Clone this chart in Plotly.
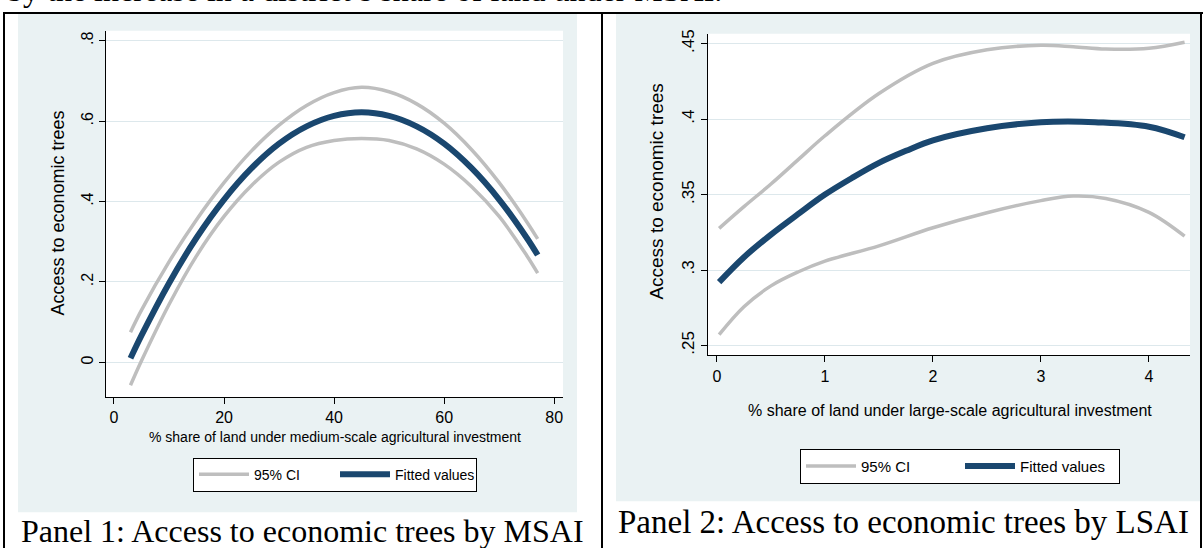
import plotly.graph_objects as go

W, H = 1203, 548

# ---------------- Panel 1 data (MSAI, quadratic fit) ----------------
p1_x = [3, 5, 10, 15, 20, 25, 30, 35, 40, 45, 50, 55, 60, 65, 70, 75, 77]
p1_fit = [0.010, 0.067, 0.197, 0.310, 0.405, 0.483, 0.544, 0.587, 0.613, 0.622,
          0.613, 0.587, 0.544, 0.483, 0.405, 0.310, 0.267]
p1_upper = [0.075, 0.130, 0.250, 0.355, 0.447, 0.526, 0.590, 0.639, 0.671, 0.684,
            0.673, 0.643, 0.595, 0.529, 0.447, 0.350, 0.307]
p1_lower = [-0.057, 0.004, 0.144, 0.265, 0.363, 0.440, 0.498, 0.535, 0.552, 0.557,
            0.552, 0.531, 0.493, 0.437, 0.363, 0.266, 0.222]
p1_xticks = [0, 20, 40, 60, 80]
p1_yticks = [0, 0.2, 0.4, 0.6, 0.8]
p1_yticklabels = ["0", ".2", ".4", ".6", ".8"]

# ---------------- Panel 2 data (LSAI) ----------------
p2_x = [0.02, 0.25, 0.5, 0.75, 1.0, 1.25, 1.5, 1.75, 2.0, 2.5, 3.0, 3.25, 3.5, 4.0, 4.33]
p2_fit = [0.292, 0.3085, 0.3235, 0.337, 0.350, 0.361, 0.371, 0.379, 0.386, 0.394,
          0.398, 0.3985, 0.398, 0.395, 0.388]
p2_ci_x = [0.02, 0.25, 0.5, 0.75, 1.0, 1.5, 2.0, 2.5, 3.0, 3.3, 3.6, 4.0, 4.33]
p2_upper = [0.3276, 0.342, 0.357, 0.373, 0.389, 0.417, 0.437, 0.446, 0.449, 0.448,
            0.4465, 0.447, 0.451]
p2_lower = [0.2572, 0.2757, 0.2895, 0.2987, 0.3059, 0.3160, 0.3280, 0.3380, 0.3460,
            0.3490, 0.3474, 0.3382, 0.3224]
p2_xticks = [0, 1, 2, 3, 4]
p2_yticks = [0.25, 0.30, 0.35, 0.40, 0.45]
p2_yticklabels = [".25", ".3", ".35", ".4", ".45"]

ytitle = "Access to economic trees"
p1_xtitle = "% share of land under medium-scale agricultural investment"
p2_xtitle = "% share of land under large-scale agricultural investment"
caption1 = "Panel 1: Access to economic trees by MSAI"
caption2 = "Panel 2: Access to economic trees by LSAI"
top_text = "by the increase in a district\u2019s share of land under MSAI."

CI_COLOR = "#BEBEBE"
FIT_COLOR = "#1A476F"
BG = "#EAF2F3"
GRID = "#DDE8EC"
SANS = "Liberation Sans, Arial, sans-serif"
SERIF = "Liberation Serif, Times New Roman, serif"


def px(x):
    return x / W


def py(y):
    return 1 - y / H


fig = go.Figure()

# Panel 1 traces
fig.add_trace(go.Scatter(
    x=p1_x + [None] + p1_x, y=p1_upper + [None] + p1_lower,
    mode="lines", line=dict(color=CI_COLOR, width=3.5, shape="spline"),
    name="95% CI", xaxis="x", yaxis="y", legend="legend", connectgaps=False))
fig.add_trace(go.Scatter(
    x=p1_x, y=p1_fit, mode="lines",
    line=dict(color=FIT_COLOR, width=6, shape="spline"),
    name="Fitted values", xaxis="x", yaxis="y", legend="legend"))

# Panel 2 traces
fig.add_trace(go.Scatter(
    x=p2_ci_x + [None] + p2_ci_x, y=p2_upper + [None] + p2_lower,
    mode="lines", line=dict(color=CI_COLOR, width=3.5, shape="spline"),
    name="95% CI", xaxis="x2", yaxis="y2", legend="legend2", connectgaps=False))
fig.add_trace(go.Scatter(
    x=p2_x, y=p2_fit, mode="lines",
    line=dict(color=FIT_COLOR, width=6, shape="spline"),
    name="Fitted values", xaxis="x2", yaxis="y2", legend="legend2"))

# plot areas (pixels)
p1_l, p1_r, p1_t, p1_b = 106, 563, 27, 396
p2_l, p2_r, p2_t, p2_b = 708, 1190, 30, 354

axis_common = dict(showline=True, linecolor="#000000", linewidth=1,
                   ticks="outside", ticklen=6, tickcolor="#000000",
                   zeroline=False, mirror=False)

fig.update_layout(
    width=W, height=H,
    margin=dict(l=0, r=0, t=0, b=0),
    paper_bgcolor="white", plot_bgcolor="rgba(0,0,0,0)",
    font=dict(family=SANS, color="#000000"),
    xaxis=dict(domain=[px(p1_l), px(p1_r)], range=[-1.45, 81.6],
               tickvals=p1_xticks, showgrid=False,
               tickfont=dict(size=16), anchor="y", **axis_common),
    yaxis=dict(domain=[py(p1_b), py(p1_t)], range=[-0.0864, 0.8247],
               tickvals=p1_yticks, ticktext=p1_yticklabels, tickangle=-90,
               showgrid=True, gridcolor=GRID, gridwidth=1,
               tickfont=dict(size=16), anchor="x", **axis_common),
    xaxis2=dict(domain=[px(p2_l), px(p2_r)], range=[-0.083, 4.38],
                tickvals=p2_xticks, showgrid=False,
                tickfont=dict(size=16), anchor="y2", **axis_common),
    yaxis2=dict(domain=[py(p2_b), py(p2_t)], range=[0.2434, 0.4566],
                tickvals=p2_yticks, ticktext=p2_yticklabels, tickangle=-90,
                showgrid=True, gridcolor=GRID, gridwidth=1,
                tickfont=dict(size=17), anchor="x2", **axis_common),
    legend=dict(orientation="h", x=px(193), y=py(457), xanchor="left", yanchor="top",
                bgcolor="white", bordercolor="#000000", borderwidth=1,
                font=dict(size=14, family=SANS), itemwidth=50,
                entrywidth=76, entrywidthmode="pixels"),
    legend2=dict(orientation="h", x=px(800), y=py(448), xanchor="left", yanchor="top",
                 bgcolor="white", bordercolor="#000000", borderwidth=1,
                 font=dict(size=15, family=SANS), itemwidth=50,
                 entrywidth=94, entrywidthmode="pixels"),
)

shapes = []
# light graph-region backgrounds
shapes.append(dict(type="rect", xref="paper", yref="paper", layer="below",
                   x0=px(18), x1=px(577), y0=py(512), y1=py(10),
                   fillcolor=BG, line=dict(width=0)))
shapes.append(dict(type="rect", xref="paper", yref="paper", layer="below",
                   x0=px(616), x1=px(1200), y0=py(501), y1=py(10),
                   fillcolor=BG, line=dict(width=0)))
# white plot regions
shapes.append(dict(type="rect", xref="paper", yref="paper", layer="below",
                   x0=px(p1_l), x1=px(p1_r), y0=py(p1_b), y1=py(p1_t),
                   fillcolor="white", line=dict(width=0)))
shapes.append(dict(type="rect", xref="paper", yref="paper", layer="below",
                   x0=px(p2_l), x1=px(p2_r), y0=py(p2_b), y1=py(p2_t),
                   fillcolor="white", line=dict(width=0)))
# table borders
for xb in (4, 602, 1201):
    shapes.append(dict(type="line", xref="paper", yref="paper", layer="above",
                       x0=px(xb), x1=px(xb), y0=0, y1=py(9),
                       line=dict(color="#000000", width=2)))
shapes.append(dict(type="line", xref="paper", yref="paper", layer="above",
                   x0=px(3), x1=1, y0=py(9), y1=py(9),
                   line=dict(color="#000000", width=2)))
fig.update_layout(shapes=shapes)

ann = []
ann.append(dict(text=ytitle, x=px(58), y=py(211), xref="paper", yref="paper",
                textangle=-90, showarrow=False, font=dict(size=18, family=SANS),
                xanchor="center", yanchor="middle"))
ann.append(dict(text=p1_xtitle, x=px(335), y=py(436), xref="paper", yref="paper",
                showarrow=False, font=dict(size=14, family=SANS),
                xanchor="center", yanchor="middle"))
ann.append(dict(text=ytitle, x=px(657), y=py(189), xref="paper", yref="paper",
                textangle=-90, showarrow=False, font=dict(size=19, family=SANS),
                xanchor="center", yanchor="middle"))
ann.append(dict(text=p2_xtitle, x=px(950), y=py(409), xref="paper", yref="paper",
                showarrow=False, font=dict(size=16, family=SANS),
                xanchor="center", yanchor="middle"))
ann.append(dict(text=caption1, x=px(19), y=py(531), xref="paper", yref="paper",
                showarrow=False, font=dict(size=32, family=SERIF),
                xanchor="left", yanchor="middle"))
ann.append(dict(text=caption2, x=px(616), y=py(522), xref="paper", yref="paper",
                showarrow=False, font=dict(size=33, family=SERIF),
                xanchor="left", yanchor="middle"))
ann.append(dict(text=top_text, x=px(5), y=py(-14), xref="paper", yref="paper",
                showarrow=False, font=dict(size=32, family=SERIF),
                xanchor="left", yanchor="middle"))
fig.update_layout(annotations=ann)

fig.write_html("out.html")
